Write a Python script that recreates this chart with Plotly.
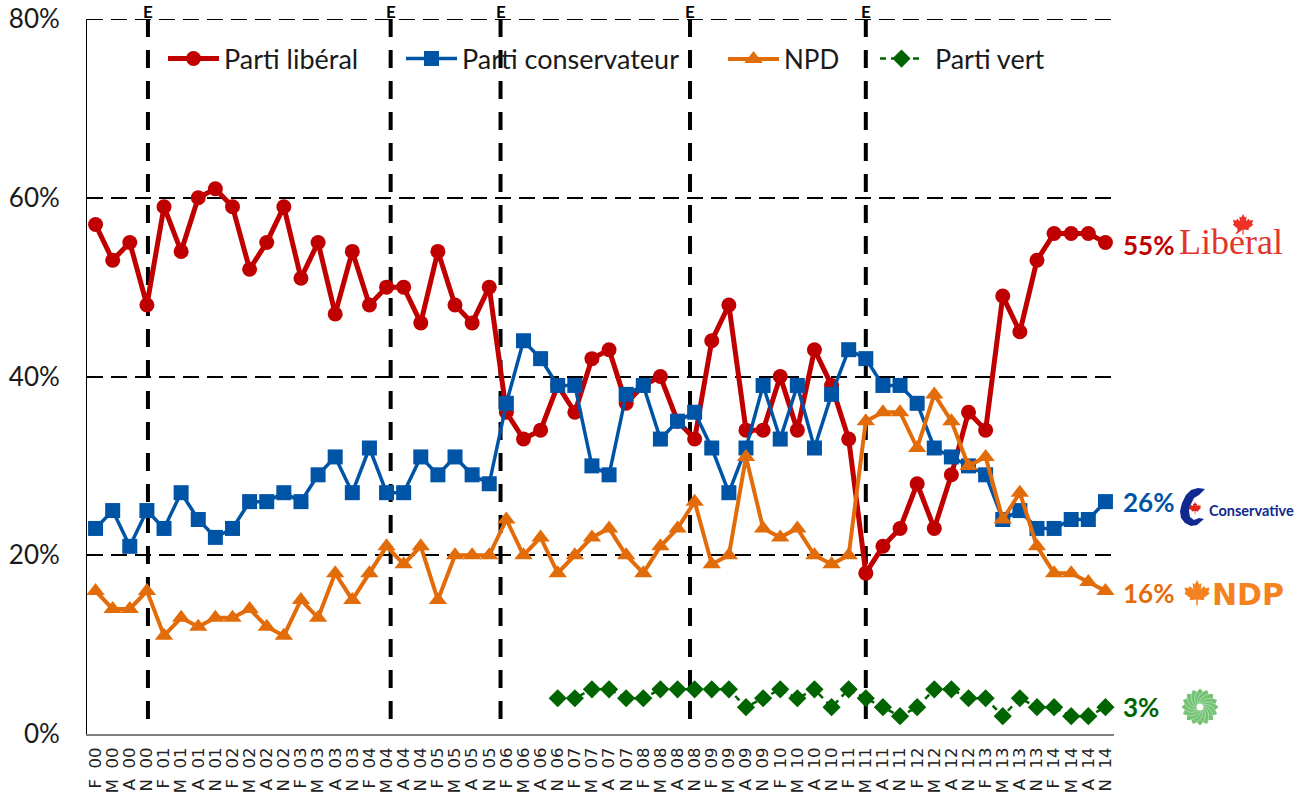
import math
import plotly.graph_objects as go

months = ["F", "M", "A", "N"]
years = ["00","01","02","03","04","05","06","07","08","09","10","11","12","13","14"]
liberal = [57,53,55,48,59,54,60,61,59,52,55,59,51,55,47,54,48,50,50,46,54,48,46,50,
           36,33,34,39,36,42,43,37,39,40,35,33,44,48,34,34,40,34,43,39,33,18,21,23,28,23,29,36,34,49,45,53,56,56,56,55]
conservative = [23,25,21,25,23,27,24,22,23,26,26,27,26,29,31,27,32,27,27,31,29,31,29,28,
                37,44,42,39,39,30,29,38,39,33,35,36,32,27,32,39,33,39,32,38,43,42,39,39,37,32,31,30,29,24,25,23,23,24,24,26]
ndp = [16,14,14,16,11,13,12,13,13,14,12,11,15,13,18,15,18,21,19,21,15,20,20,20,
       24,20,22,18,20,22,23,20,18,21,23,26,19,20,31,23,22,23,20,19,20,35,36,36,32,38,35,30,31,24,27,21,18,18,17,16]
green = [None]*27 + [4,4,5,5,4,4,5,5,5,5,5,3,4,5,4,5,3,5,4,3,2,3,5,5,4,4,2,4,3,3,2,2,3]
elections = [3.06, 17.24, 23.66, 34.73, 45.0]

RED, BLUE, ORANGE, DKGREEN = "#C00000", "#0054A6", "#E36C0A", "#006400"
NB = "\u00a0"
cats = [f"{m}{NB*2}{y}" for y in years for m in months]

L, R, T, B = 87, 1114, 19, 734
def px(x): return (x-L)/(R-L)
def py(y): return (B-y)/(B-T)
def path(points, close=True):
    return "M" + "L".join(f"{px(x):.5f},{py(y):.5f}" for x, y in points) + ("Z" if close else "")

half = [(0,1),(.15,.7),(.3,.8),(.25,.4),(.5,.6),(.55,.45),(.85,.5),(.75,.2),(.85,.1),(.45,-.2),(.5,-.35),(.05,-.3),(.05,-.7)]
leaf_pts = half + [(-a,b) for a,b in reversed(half[1:])]
def leaf(cx, cy, r, color):
    return dict(type="path", xref="paper", yref="paper", layer="above", line_width=0, fillcolor=color,
                path=path([(cx+r*a, cy-r*b) for a,b in leaf_pts]))

fig = go.Figure()
def add(name, vals, color, width, sym, size, legend, dash="solid"):
    fig.add_trace(go.Scatter(x=cats, y=vals, name=name, mode="lines+markers", legend=legend, cliponaxis=False,
                             showlegend=True, line=dict(color=color, width=width, dash=dash),
                             marker=dict(symbol=sym, size=size, color=color)))
add("Parti libéral", liberal, RED, 5, "circle", 15, "legend")
add("Parti conservateur", conservative, BLUE, 3.5, "square", 15, "legend2")
add("NPD", ndp, ORANGE, 4, "triangle-up", 16, "legend3")
add(NB + "Parti vert", green, DKGREEN, 2.5, "diamond", 14, "legend4", "6px,5px")

shapes = [dict(type="line", xref="paper", yref="y", x0=0, x1=1, y0=80, y1=80, layer="below",
               line=dict(color="black", width=2, dash="16px,8px"))]
for e in elections:
    shapes.append(dict(type="line", xref="x", yref="y", x0=e, x1=e, y0=80, y1=1, layer="below",
                       line=dict(color="black", width=4, dash="18px,13px")))

# party marks
shapes.append(leaf(1243, 226, 12, "#EE3124"))
shapes.append(leaf(1197, 595, 15, "#F58220"))
c_pts = [(1205,489),(1198,488),(1191,490),(1186,495),(1182,503),(1180,511),(1181,518),(1185,523),(1191,526),
         (1197,525),(1204,519),(1199,518),(1194,520),(1190,517),(1189,511),(1191,504),(1194,498),(1199,495)]
shapes.append(dict(type="path", xref="paper", yref="paper", layer="above", line_width=0, fillcolor="#10298E",
                   path=path(c_pts)))
shapes.append(leaf(1195, 509, 7, "#E3231B"))
# Green flower
fx, fy = 1200, 707
star = []
for k in range(32):
    r = 18.5 if k % 2 == 0 else 15.5
    a = 2*math.pi*k/32
    star.append((fx+r*math.cos(a), fy+r*math.sin(a)))
shapes.append(dict(type="path", xref="paper", yref="paper", layer="above", line_width=0,
                   fillcolor="#74C274", path=path(star)))
for k in range(16):
    a = 2*math.pi*k/16 + math.pi/16
    spiral = [(fx+r*math.cos(a+(r-4)*0.07), fy+r*math.sin(a+(r-4)*0.07)) for r in (4, 7, 10, 13, 16)]
    shapes.append(dict(type="path", xref="paper", yref="paper", layer="above",
                       line=dict(color="#CDEBCD", width=0.6), path=path(spiral, close=False)))
shapes.append(dict(type="circle", xref="paper", yref="paper", layer="above", line_width=0, fillcolor="white",
                   x0=px(fx-3.5), x1=px(fx+3.5), y0=py(fy+3.5), y1=py(fy-3.5)))

ann = []
for e in elections:
    ann.append(dict(x=e, y=80, xref="x", yref="y", text="<b>E</b>", showarrow=False, yanchor="bottom", yshift=-4,
                    borderpad=0, font=dict(family="Lato", size=17, color="black")))
for vals, col, dy in [(liberal, RED, 3), (conservative, BLUE, 0), (ndp, ORANGE, 2), (green, DKGREEN, 0)]:
    ann.append(dict(x=59, y=vals[-1], xref="x", yref="y", text=f"<b>{vals[-1]}%</b>", showarrow=False,
                    xanchor="left", xshift=16, yshift=-dy, font=dict(family="Lato", size=26, color=col)))
def logo(text, x, y, family, size, color):
    ann.append(dict(x=px(x), y=py(y), xref="paper", yref="paper", text=text, showarrow=False, xanchor="left",
                    yanchor="middle", font=dict(family=family, size=size, color=color)))
logo("Libéral", 1177, 242, "Liberation Serif", 36, "#E4352B")
logo("<b>Conservative</b>", 1207, 510, "Lato", 14.5, "#10298E")
logo("<b>NDP</b>", 1210, 594, "DejaVu Sans", 30, "#F58220")

leg = dict(orientation="h", bgcolor="rgba(0,0,0,0)", itemwidth=51, itemclick=False, itemdoubleclick=False,
           font=dict(family="Lato", size=27, color="#1a1a1a"), yanchor="middle", xanchor="left", y=py(59))
fig.update_layout(
    width=1312, height=797, margin=dict(l=L, r=1312-R, t=T, b=797-B), autosize=False, showlegend=True,
    paper_bgcolor="white", plot_bgcolor="white", shapes=shapes, annotations=ann, hovermode=False,
    legend={**leg, "x": px(163)}, legend2={**leg, "x": px(401)},
    legend3={**leg, "x": px(723), "font": dict(family="Lato", size=26, color="#1a1a1a")},
    legend4={**leg, "x": px(875), "itemwidth": 43},
    xaxis=dict(type="category", categoryorder="array", categoryarray=cats, range=[-0.5, 59.5],
               tickmode="array", tickvals=cats, ticktext=cats, tickangle=-90, ticks="", showgrid=False,
               showline=True, linecolor="#808080", linewidth=2, ticklabelstandoff=5, zeroline=False,
               tickfont=dict(family="DejaVu Sans", size=16.5, color="#222222"), automargin=False),
    yaxis=dict(range=[0, 80], tickvals=[0,20,40,60,80], ticktext=["0%","20%","40%","60%","80%"], ticks="",
               showline=True, linecolor="black", linewidth=1, showgrid=True, gridcolor="black", gridwidth=2,
               griddash="16px,8px", zeroline=False, ticklabelstandoff=21, automargin=False,
               tickfont=dict(family="Lato", size=26, color="#1a1a1a")),
)
fig.write_html("out.html", config={"displayModeBar": False},
               post_script="document.body.style.margin='0';document.body.style.overflow='hidden';")
